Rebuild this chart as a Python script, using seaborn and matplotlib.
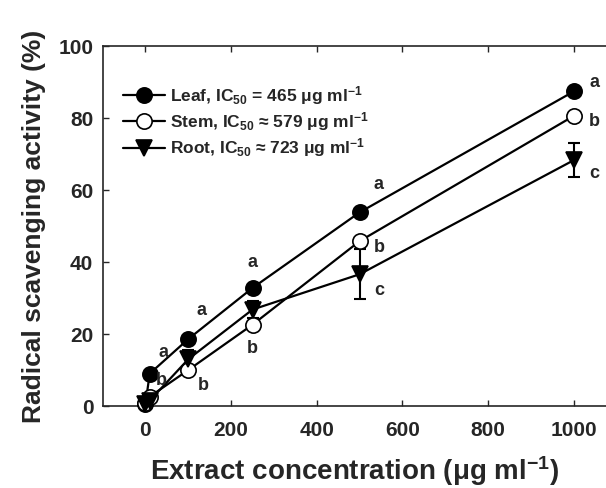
import matplotlib
matplotlib.use("Agg")
import matplotlib.pyplot as plt
import pandas as pd
import seaborn as sns

# Extract concentration (ug/ml) and scavenging activity (%)
conc = [0, 10, 100, 250, 500, 1000]
leaf = [0.5, 9.0, 18.6, 32.8, 53.8, 87.4]
stem = [0.8, 2.6, 10.0, 22.6, 45.8, 80.6]
root = [0.6, 1.5, 13.0, 26.8, 36.6, 68.3]
root_err = [0.0, 0.0, 2.6, 2.4, 7.0, 4.7]

legend_labels = [
    r"Leaf, IC$_{50}$ = 465 μg ml$^{-1}$",
    r"Stem, IC$_{50}$ ≈ 579 μg ml$^{-1}$",
    r"Root, IC$_{50}$ ≈ 723 μg ml$^{-1}$",
]

# significance letters: (x, y, letter)
letters = [
    (41, 15.0, "a"), (132, 26.6, "a"), (251, 40.0, "a"), (543, 61.5, "a"), (1047, 89.8, "a"),
    (38, 7.0, "b"), (134, 5.8, "b"), (250, 16.0, "b"), (545, 44.0, "b"), (1047, 79.0, "b"),
    (545, 32.0, "c"), (1047, 64.6, "c"),
]

sns.set_style("ticks")
plt.rcParams["font.family"] = ["Liberation Sans", "DejaVu Sans"]
plt.rcParams["font.weight"] = "bold"
plt.rcParams["mathtext.fontset"] = "custom"
plt.rcParams["mathtext.rm"] = "Liberation Sans:bold"
plt.rcParams["mathtext.bf"] = "Liberation Sans:bold"
plt.rcParams["mathtext.default"] = "bf"

df = pd.DataFrame({"conc": conc, "Leaf": leaf, "Stem": stem, "Root": root})

fig = plt.figure(figsize=(6.06, 4.88), dpi=100)
ax = fig.add_axes([0.170, 0.168, 0.830, 0.7377])

styles = [
    ("Leaf", "o", "black"),
    ("Stem", "o", "white"),
    ("Root", "v", "black"),
]
for (col, mk, face), lab in zip(styles, legend_labels):
    sns.lineplot(
        data=df, x="conc", y=col, ax=ax, color="black", lw=1.6,
        marker=mk, markersize=11, markerfacecolor=face, markeredgecolor="black",
        markeredgewidth=1.2, label=lab, clip_on=False, zorder=3,
    )

ax.errorbar(conc, root, yerr=root_err, fmt="none", ecolor="black",
            elinewidth=1.5, capsize=4.5, capthick=1.5, zorder=2)

for x, y, t in letters:
    ax.text(x, y, t, fontsize=13, fontweight="bold", ha="center", va="center")

ax.set_xlim(-99, 1075)
ax.set_ylim(0, 100)
ax.set_xticks([0, 200, 400, 600, 800, 1000])
ax.set_yticks([0, 20, 40, 60, 80, 100])
ax.tick_params(axis="x", direction="in", top=True, length=4, width=1, pad=11, labelsize=15)
ax.tick_params(axis="y", direction="in", length=4, width=1, pad=7, labelsize=15)
for s in ["left", "bottom", "top"]:
    ax.spines[s].set_linewidth(1.2)
ax.spines["right"].set_visible(False)

ax.set_xlabel(r"Extract concentration (μg ml$^{-1}$)", fontsize=20, fontweight="bold", labelpad=10)
ax.set_ylabel("Radical scavenging activity (%)", fontsize=19, fontweight="bold", labelpad=9)

leg = ax.legend(loc="upper left", bbox_to_anchor=(0.04, 0.895), frameon=False,
                fontsize=12.5, handlelength=2.4, handletextpad=0.3,
                labelspacing=0.2, borderpad=0, borderaxespad=0)

fig.savefig("out.png", dpi=100)
